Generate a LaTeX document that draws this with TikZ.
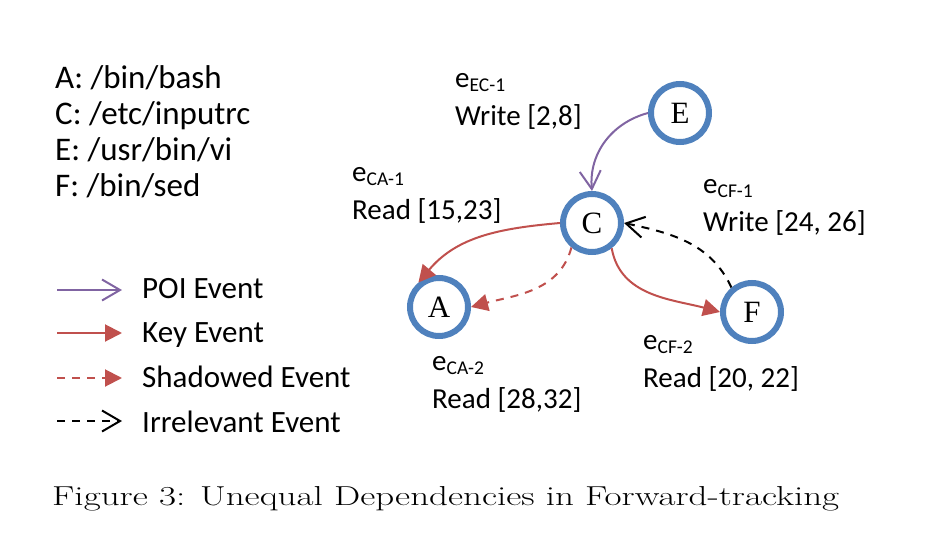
\documentclass[tikz,border=0pt]{standalone}
\usepackage{fontspec}
\usepackage{graphicx}
\usepackage{tikz}
\usetikzlibrary{arrows.meta}

\newfontfamily\calibri{Carlito}
\newfontfamily\serifletter{Liberation Serif}

\definecolor{nodeblue}{RGB}{79,129,189}
\definecolor{keyred}{RGB}{192,80,77}
\definecolor{poipurple}{RGB}{128,100,162}

\newcommand{\evname}[1]{e\raisebox{-4pt}{\fontsize{19.5}{19.5}\selectfont #1}}

\tikzset{
  state/.style={circle, draw=nodeblue, line width=6pt, fill=white, minimum size=58pt, inner sep=0pt, font=\serifletter\fontsize{31}{31}\selectfont},
  txt/.style={anchor=base west, inner sep=0pt, align=left, font=\calibri\fontsize{31}{38}\selectfont},
  lbl/.style={txt, font=\calibri\fontsize{29}{38}\selectfont},
  poi/.style={poipurple, line width=2pt, -{Straight Barb[length=18pt,width=21pt]}},
  keyev/.style={keyred, line width=2pt, -{Triangle[length=17pt,width=17pt]}},
  shadowev/.style={keyev, dash pattern=on 8pt off 7pt},
  irrelev/.style={black, line width=2pt, dash pattern=on 8pt off 7pt, -{Straight Barb[length=18pt,width=21pt]}}
}

\begin{document}
\begin{tikzpicture}[x=1pt, y=1pt]
        \useasboundingbox (0,0) rectangle (946,-533);

        % File names (base = last line)
        \node[txt, font=\calibri\fontsize{33}{36}\selectfont] (files) at (55,-196) {A: /bin/bash\\C: /etc/inputrc\\E: /usr/bin/vi\\F: /bin/sed};

        % Nodes
        \node[state] (E) at (680,-113) {E};
        \node[state] (C) at (592,-223) {C};
        \node[state] (A) at (439,-307) {A};
        \node[state] (F) at (752,-312) {F};

        % Edges
        \draw[poi] (E.west) to[out=195, in=95] (C.north);
        \draw[keyev] (C.west) to[out=185, in=50] (A.130);
        \draw[shadowev] (C.230) to[out=255, in=15] (A.east);
        \draw[keyev] (C.308) to[out=280, in=165] (F.west);
        \draw[irrelev] (F.130) to[out=115, in=-12] (C.east);

        % Edge labels
        \node[lbl] (lEC1) at (455,-125) {\evname{EC-1}\\Write [2,8]};
        \node[lbl] (lCA1) at (352,-219) {\evname{CA-1}\\Read [15,23]};
        \node[lbl] (lCF1) at (703,-231) {\evname{CF-1}\\Write [24, 26]};
        \node[lbl] (lCA2) at (432,-408) {\evname{CA-2}\\Read [28,32]};
        \node[lbl] (lCF2) at (643,-387) {\evname{CF-2}\\Read [20, 22]};

        % Legend
        \coordinate (poiS) at (57,-290);  \coordinate (poiE) at (122,-290);
        \coordinate (keyS) at (57,-333);  \coordinate (keyE) at (122,-333);
        \coordinate (shdS) at (57,-378);  \coordinate (shdE) at (122,-378);
        \coordinate (irrS) at (57,-421);  \coordinate (irrE) at (122,-421);
        \draw[poi] (poiS) -- (poiE);
        \draw[keyev] (keyS) -- (keyE);
        \draw[shadowev] (shdS) -- (shdE);
        \draw[irrelev] (irrS) -- (irrE);
        \node[txt] (tPOI) at (142,-298) {POI Event};
        \node[txt] (tKey) at (142,-342) {Key Event};
        \node[txt] (tShd) at (142,-387) {Shadowed Event};
        \node[txt] (tIrr) at (142,-432) {Irrelevant Event};

        % Caption
        \node[anchor=base west, inner sep=0pt] (caption) at (52,-505) {\resizebox{787pt}{\height}{\fontsize{27.4}{30}\selectfont Figure 3: Unequal Dependencies in Forward-tracking}};
\end{tikzpicture}
\end{document}
